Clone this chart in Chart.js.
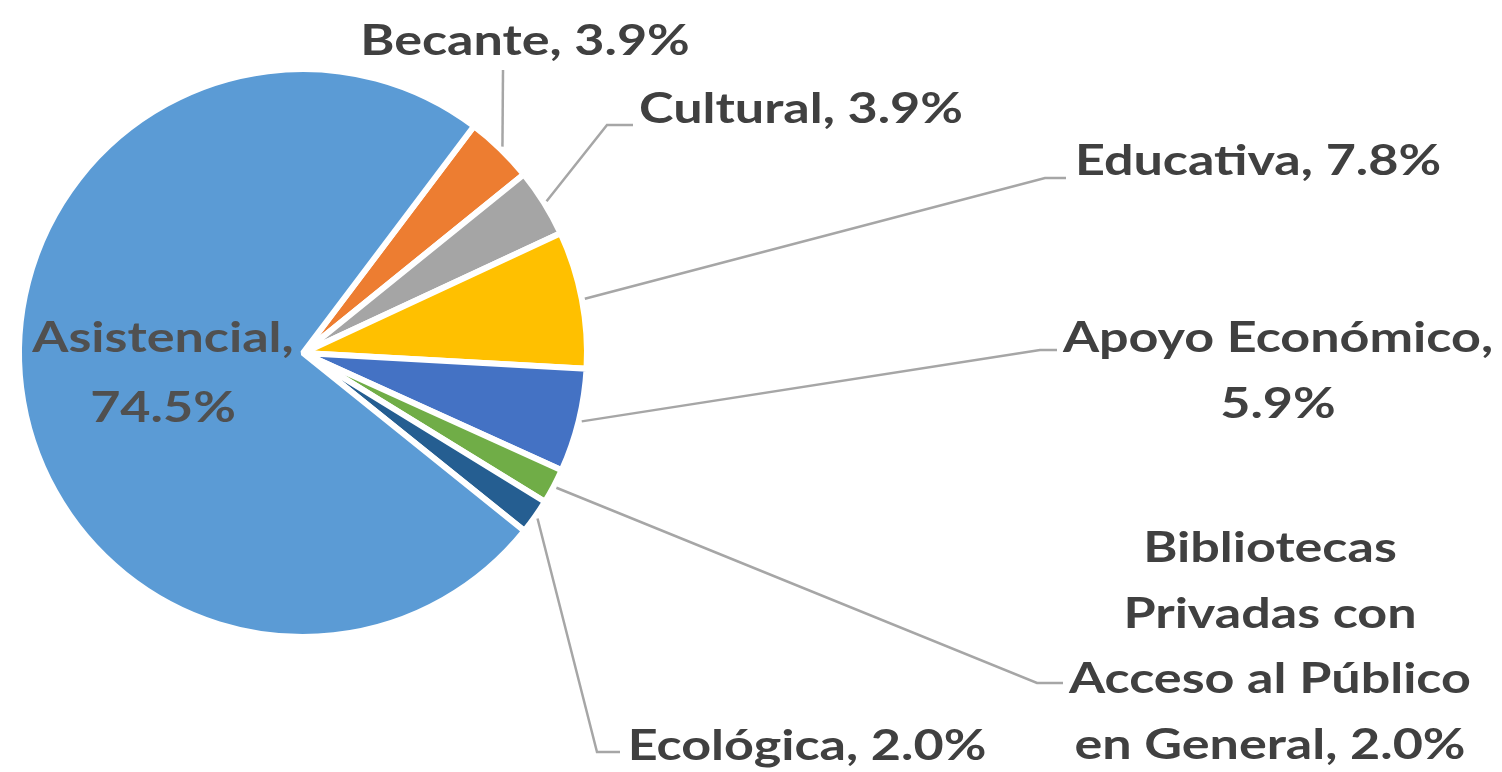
<!DOCTYPE html>
<html>
<head>
<meta charset="utf-8">
<script src="https://cdn.jsdelivr.net/npm/chart.js@4/dist/chart.umd.min.js"></script>
<style>
  html, body { margin: 0; padding: 0; background: #ffffff; }
  #wrap { width: 1502px; height: 772px; position: relative; }
</style>
</head>
<body>
<div id="wrap"><canvas id="c"></canvas></div>
<script>
// ---- data ----
const categories = ["Becante", "Cultural", "Educativa", "Apoyo Económico",
  "Bibliotecas Privadas con Acceso al Público en General", "Ecológica", "Asistencial"];
const values = [3.9, 3.9, 7.8, 5.9, 2.0, 2.0, 74.5];
const labelLines = [
  ["Becante, 3.9%"],
  ["Cultural, 3.9%"],
  ["Educativa, 7.8%"],
  ["Apoyo Económico,", "5.9%"],
  ["Bibliotecas", "Privadas con", "Acceso al Público", "en General, 2.0%"],
  ["Ecológica, 2.0%"],
  ["Asistencial,", "74.5%"]
];
const colors = ["#ED7D31", "#A5A5A5", "#FFC000", "#4472C4", "#70AD47", "#255E91", "#5B9BD5"];

// ---- label layout (pixel positions of label text and leader elbows) ----
const labelLayout = [
  { x: 525, y: 55,  lh: 66, leader: [[503, 70]] },
  { x: 801, y: 123, lh: 66, leader: [[607, 125], [633, 125]] },
  { x: 1258, y: 175, lh: 66, leader: [[1045, 178], [1066, 178]] },
  { x: 1278, y: 352, lh: 66, leader: [[1040, 350], [1057, 350]] },
  { x: 1270, y: 562, lh: 65.5, leader: [[1037, 683], [1063, 683]] },
  { x: 807, y: 760, lh: 66, leader: [[597, 752], [620, 752]] },
  { x: 163, y: 352, lh: 70, leader: null }
];

const FONT = "bold 42px Lato";
const SX = 1.24;
const TEXT_COLOR = "#404040";
const INNER_TEXT_COLOR = "#505050";
const LINE_COLOR = "#A6A6A6";

const labelPlugin = {
  id: "pieLabels",
  afterDatasetsDraw(chart) {
    const ctx = chart.ctx;
    const meta = chart.getDatasetMeta(0);
    ctx.save();
    meta.data.forEach((arc, i) => {
      const p = arc.getProps(["x", "y", "startAngle", "endAngle", "outerRadius"], true);
      const lay = labelLayout[i];
      if (lay.leader) {
        const mid = (p.startAngle + p.endAngle) / 2;
        const r = p.outerRadius + 3;
        ctx.beginPath();
        ctx.moveTo(p.x + Math.cos(mid) * r, p.y + Math.sin(mid) * r);
        lay.leader.forEach(pt => ctx.lineTo(pt[0], pt[1]));
        ctx.strokeStyle = LINE_COLOR;
        ctx.lineWidth = 2.5;
        ctx.stroke();
      }
      ctx.font = FONT;
      ctx.fillStyle = lay.leader ? TEXT_COLOR : INNER_TEXT_COLOR;
      ctx.textAlign = "center";
      ctx.textBaseline = "alphabetic";
      labelLines[i].forEach((line, k) => {
        ctx.save();
        ctx.translate(lay.x, lay.y + k * lay.lh);
        ctx.scale(SX, 1);
        ctx.fillText(line, 0, 0);
        ctx.restore();
      });
    });
    ctx.restore();
  }
};

new Chart(document.getElementById("c"), {
  type: "pie",
  data: {
    labels: categories,
    datasets: [{
      data: values,
      backgroundColor: colors,
      borderColor: "#ffffff",
      borderWidth: 6
    }]
  },
  options: {
    responsive: true,
    maintainAspectRatio: false,
    animation: false,
    rotation: 37,
    layout: { padding: { left: 16, top: 66, right: 912, bottom: 132 } },
    plugins: { legend: { display: false }, tooltip: { enabled: false } }
  },
  plugins: [labelPlugin]
});
</script>
</body>
</html>
